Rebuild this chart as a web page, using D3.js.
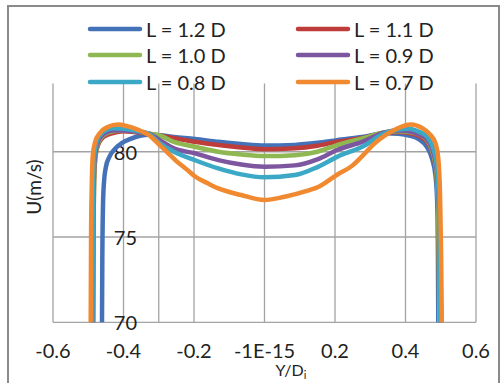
<!DOCTYPE html>
<html>
<head>
<meta charset="utf-8">
<script src="https://cdn.jsdelivr.net/npm/d3@7"></script>
<style>
  html, body { margin: 0; padding: 0; background: #fff; }
  svg { display: block; }
  text { font-family: Lato, "Liberation Sans", sans-serif; fill: #222; }
</style>
</head>
<body>
<svg id="chart" width="502" height="383"></svg>
<script>
// Velocity profiles U(m/s) across the duct, Y/Di, for several lengths L
const seriesNames = ["L = 1.2 D", "L = 1.1 D", "L = 1.0 D", "L = 0.9 D", "L = 0.8 D", "L = 0.7 D"];
const seriesColors = ["#4472b8", "#be3d3b", "#8fb852", "#7d56a0", "#3ba8c5", "#f0892f"];

const profileL12 = [[-0.461,70],[-0.460,74],[-0.458,77],[-0.455,78.3],[-0.450,79.1],[-0.440,79.7],[-0.425,80.15],[-0.405,80.5],[-0.38,80.75],[-0.35,80.95],[-0.33,81.0],[-0.297,80.97],[-0.257,80.87],[-0.197,80.75],[-0.131,80.58],[-0.066,80.45],[0,80.36],[0.086,80.4],[0.15,80.52],[0.206,80.68],[0.277,80.87],[0.343,81.08],[0.38,81.05],[0.41,80.95],[0.44,80.7],[0.46,80.3],[0.475,79.6],[0.485,78.6],[0.49,77],[0.492,74],[0.493,70]];
const profileL11 = [[-0.486,70],[-0.485,75],[-0.483,78.5],[-0.479,79.8],[-0.47,80.5],[-0.455,80.9],[-0.43,81.1],[-0.40,81.2],[-0.37,81.15],[-0.33,81.05],[-0.297,80.95],[-0.257,80.8],[-0.197,80.58],[-0.131,80.39],[-0.066,80.25],[0,80.15],[0.086,80.2],[0.15,80.35],[0.206,80.58],[0.277,80.8],[0.343,81.12],[0.38,81.15],[0.41,81.1],[0.44,80.9],[0.46,80.6],[0.475,80.0],[0.487,78.8],[0.493,76.5],[0.495,73],[0.496,70]];
const profileL10 = [[-0.486,70],[-0.485,75],[-0.483,78.6],[-0.479,79.9],[-0.47,80.6],[-0.455,81.0],[-0.43,81.2],[-0.40,81.25],[-0.37,81.2],[-0.33,81.07],[-0.297,80.95],[-0.257,80.58],[-0.197,80.29],[-0.131,80.0],[-0.066,79.84],[0,79.75],[0.086,79.8],[0.15,80.0],[0.206,80.39],[0.277,80.78],[0.343,81.15],[0.38,81.2],[0.41,81.15],[0.44,81.0],[0.46,80.7],[0.475,80.1],[0.487,78.9],[0.493,76.5],[0.495,73],[0.496,70]];
const profileL09 = [[-0.487,70],[-0.486,75],[-0.484,78.6],[-0.48,79.9],[-0.47,80.7],[-0.455,81.05],[-0.43,81.25],[-0.40,81.25],[-0.37,81.2],[-0.33,81.07],[-0.297,80.68],[-0.257,80.2],[-0.197,79.9],[-0.131,79.51],[-0.066,79.25],[0,79.12],[0.086,79.2],[0.15,79.55],[0.206,80.1],[0.277,80.58],[0.343,81.15],[0.38,81.25],[0.41,81.2],[0.44,81.0],[0.46,80.75],[0.475,80.2],[0.488,79],[0.496,76],[0.498,72],[0.499,70]];
const profileL08 = [[-0.488,70],[-0.487,75],[-0.485,78.8],[-0.481,80.1],[-0.472,80.8],[-0.455,81.2],[-0.43,81.38],[-0.40,81.35],[-0.37,81.25],[-0.33,81.07],[-0.297,80.49],[-0.257,80.0],[-0.197,79.5],[-0.131,79.02],[-0.066,78.67],[0,78.5],[0.086,78.63],[0.15,79.1],[0.206,79.7],[0.277,80.29],[0.343,81.1],[0.38,81.3],[0.41,81.35],[0.44,81.15],[0.46,80.9],[0.475,80.4],[0.488,79.3],[0.495,77],[0.497,73],[0.498,70]];
const profileL07 = [[-0.493,70],[-0.492,75],[-0.490,78],[-0.487,79.8],[-0.480,80.6],[-0.467,81.1],[-0.445,81.45],[-0.415,81.6],[-0.39,81.5],[-0.36,81.3],[-0.33,81.0],[-0.30,80.45],[-0.275,79.95],[-0.25,79.45],[-0.22,78.95],[-0.197,78.55],[-0.161,78.15],[-0.131,77.85],[-0.066,77.46],[0,77.17],[0.057,77.36],[0.12,77.7],[0.154,77.95],[0.206,78.65],[0.25,79.2],[0.28,79.8],[0.31,80.45],[0.343,80.97],[0.375,81.35],[0.415,81.6],[0.45,81.35],[0.47,81.0],[0.485,80.5],[0.493,79.6],[0.498,77.5],[0.501,74],[0.503,70]];

const profiles = [profileL12, profileL11, profileL10, profileL09, profileL08, profileL07];

const xTicks = [-0.6, -0.4, -0.2, 0, 0.2, 0.4, 0.6];
const xTickLabels = ["-0.6", "-0.4", "-0.2", "-1E-15", "0.2", "0.4", "0.6"];
const yTicks = [70, 75, 80];
const yAxisCross = -0.3;

const svg = d3.select("#chart");

// chart frame
svg.append("rect")
  .attr("x", 8).attr("y", 6).attr("width", 491).attr("height", 420)
  .attr("fill", "#fff").attr("stroke", "#8a8a8a").attr("stroke-width", 2);

const x = d3.scaleLinear().domain([-0.6, 0.6]).range([53, 476]);
const y = d3.scaleLinear().domain([70, 84]).range([322.3, 83.5]);

const grid = svg.append("g");
// vertical gridlines
grid.selectAll("line.v").data(xTicks.concat([yAxisCross])).join("line")
  .attr("x1", d => x(d)).attr("x2", d => x(d))
  .attr("y1", y(84)).attr("y2", y(70))
  .attr("stroke", "#a3a3a3").attr("stroke-width", 1.3);
// horizontal gridlines
grid.selectAll("line.h").data(yTicks).join("line")
  .attr("x1", x(-0.6)).attr("x2", x(0.6))
  .attr("y1", d => y(d)).attr("y2", d => y(d))
  .attr("stroke", "#a3a3a3").attr("stroke-width", 1.3);

// y tick labels
svg.append("g").selectAll("text").data(yTicks).join("text")
  .attr("x", 137).attr("y", d => y(d))
  .attr("text-anchor", "end").attr("dominant-baseline", "central")
  .attr("font-size", 20).text(d => d);

// x tick labels
svg.append("g").selectAll("text").data(xTicks).join("text")
  .attr("x", d => x(d)).attr("y", 350)
  .attr("text-anchor", "middle").attr("dominant-baseline", "central")
  .attr("font-size", 20).text((d, i) => xTickLabels[i]);

// axis titles
const xt = svg.append("text").attr("x", 291).attr("y", 376)
  .attr("text-anchor", "middle").attr("font-size", 16);
xt.append("tspan").text("Y/D");
xt.append("tspan").attr("font-size", 11).attr("dy", 3).text("i");

svg.append("text")
  .attr("transform", "translate(41,187) rotate(-90)")
  .attr("text-anchor", "middle").attr("font-size", 19).text("U(m/s)");

// profile lines
const line = d3.line().x(d => x(d[0])).y(d => y(d[1])).curve(d3.curveMonotoneX);
svg.append("g").selectAll("path").data(profiles).join("path")
  .attr("d", line)
  .attr("fill", "none")
  .attr("stroke", (d, i) => seriesColors[i])
  .attr("stroke-width", 4.5)
  .attr("stroke-linejoin", "round");

// legend
const legendPos = [[90, 29], [298, 29], [90, 55], [298, 55], [90, 82], [298, 82]];
const lg = svg.append("g").selectAll("g").data(seriesNames).join("g")
  .attr("transform", (d, i) => `translate(${legendPos[i][0]},${legendPos[i][1]})`);
lg.append("line").attr("x1", 0).attr("x2", 50).attr("y1", 0).attr("y2", 0)
  .attr("stroke", (d, i) => seriesColors[i]).attr("stroke-width", 4.5)
  .attr("stroke-linecap", "round");
lg.append("text").attr("x", 56).attr("y", 0).attr("dominant-baseline", "central")
  .attr("font-size", 20).text(d => d);
</script>
</body>
</html>
